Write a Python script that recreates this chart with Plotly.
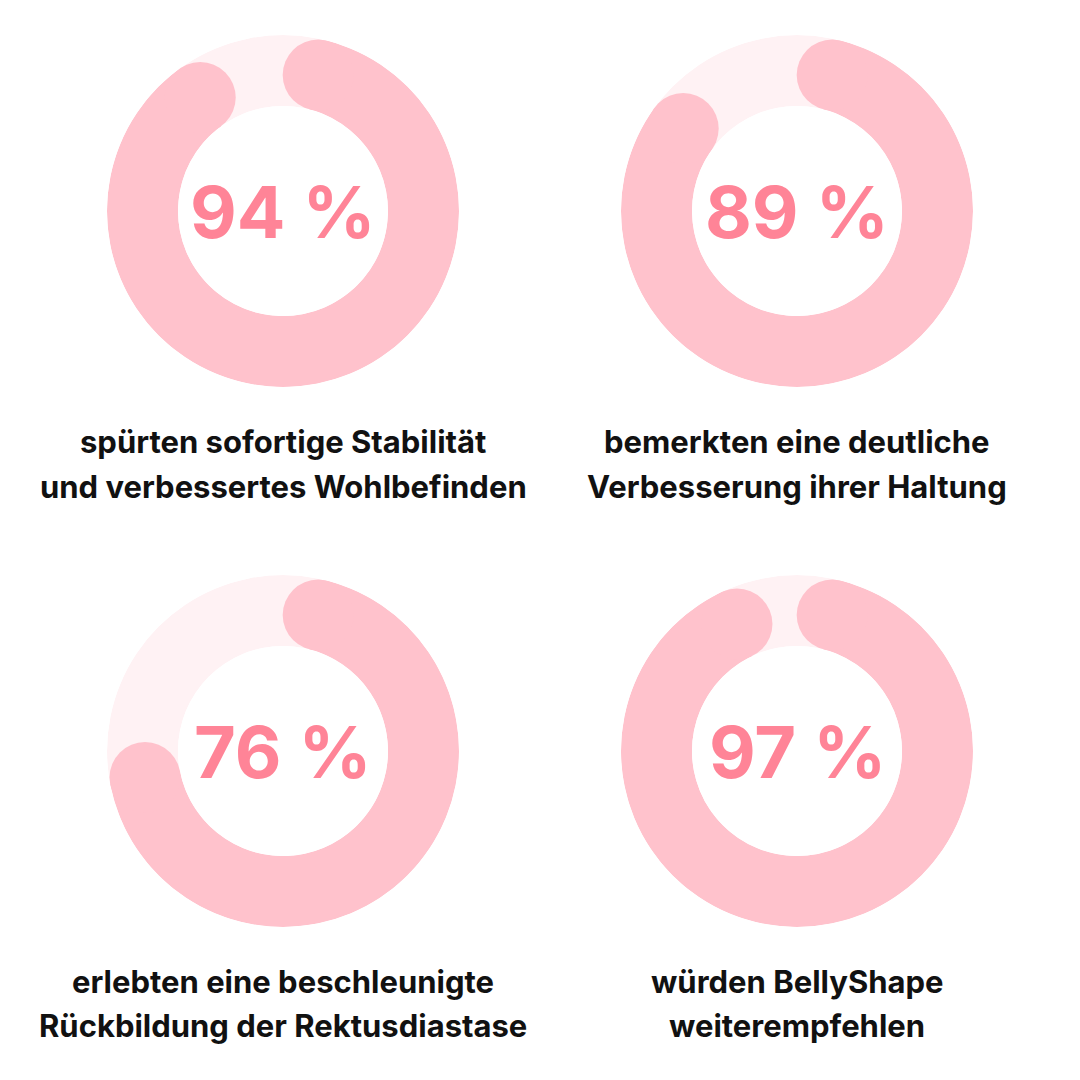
import plotly.graph_objects as go

# ---- data ----
values = [94, 89, 76, 97]
caption_lines = [
    ["spürten sofortige Stabilität", "und verbessertes Wohlbefinden"],
    ["bemerkten eine deutliche", "Verbesserung ihrer Haltung"],
    ["erlebten eine beschleunigte", "Rückbildung der Rektusdiastase"],
    ["würden BellyShape", "weiterempfehlen"],
]

# ---- styling / layout ----
W = 1080
OFF = 8  # page body margin compensation
centers = [(283 - OFF, 211 - OFF), (797 - OFF, 211 - OFF),
           (283 - OFF, 751 - OFF), (797 - OFF, 751 - OFF)]
R_OUT = 176
R_IN = 105
RING = R_OUT - R_IN
ARC_COLOR = "#FFC2CC"
TRACK_COLOR = "#FFF2F4"
PCT_COLOR = "#FF8497"
TEXT_COLOR = "#111111"
CAP_DEG = 14.5        # angular radius of the rounded cap
LINE_OFFSETS = [230, 275]

fig = go.Figure()
annotations = []
layout_polars = {}

for i, (v, lines, (cx, cy)) in enumerate(zip(values, caption_lines, centers)):
    pname = "polar" if i == 0 else f"polar{i+1}"
    start = CAP_DEG
    end = 3.6 * v - CAP_DEG
    span = end - start

    # background track
    fig.add_trace(go.Barpolar(
        r=[1], theta=[180], width=[360], base=0,
        marker=dict(color=TRACK_COLOR, line=dict(width=0)),
        subplot=pname, showlegend=False, hoverinfo="skip"))
    # value arc
    fig.add_trace(go.Barpolar(
        r=[1], theta=[start + span / 2], width=[span], base=0,
        marker=dict(color=ARC_COLOR, line=dict(width=0)),
        subplot=pname, showlegend=False, hoverinfo="skip"))
    # rounded caps
    fig.add_trace(go.Scatterpolar(
        r=[0.5, 0.5], theta=[start, end], mode="markers",
        marker=dict(size=RING, color=ARC_COLOR, line=dict(width=0)),
        subplot=pname, showlegend=False, hoverinfo="skip"))

    layout_polars[pname] = dict(
        domain=dict(x=[(cx - R_OUT) / W, (cx + R_OUT) / W],
                    y=[1 - (cy + R_OUT) / W, 1 - (cy - R_OUT) / W]),
        hole=R_IN / R_OUT,
        bgcolor="rgba(0,0,0,0)",
        radialaxis=dict(visible=False, range=[0, 1]),
        angularaxis=dict(visible=False, rotation=90, direction="clockwise"),
        barmode="overlay",
    )

    annotations.append(dict(
        x=cx / W, y=1 - cy / W, xref="paper", yref="paper",
        text=f"{v} %", showarrow=False, xanchor="center", yanchor="middle",
        font=dict(family="Inter", size=72, color=PCT_COLOR, weight=700)))
    for line, off in zip(lines, LINE_OFFSETS):
        annotations.append(dict(
            x=cx / W, y=1 - (cy + off) / W, xref="paper", yref="paper",
            text=line, showarrow=False, xanchor="center", yanchor="middle",
            font=dict(family="Inter", size=31, color=TEXT_COLOR, weight=700)))

fig.update_layout(
    width=W, height=W,
    margin=dict(l=0, r=0, t=0, b=0),
    paper_bgcolor="white", plot_bgcolor="white",
    annotations=annotations,
    **layout_polars,
)

fig.write_html("out.html")
